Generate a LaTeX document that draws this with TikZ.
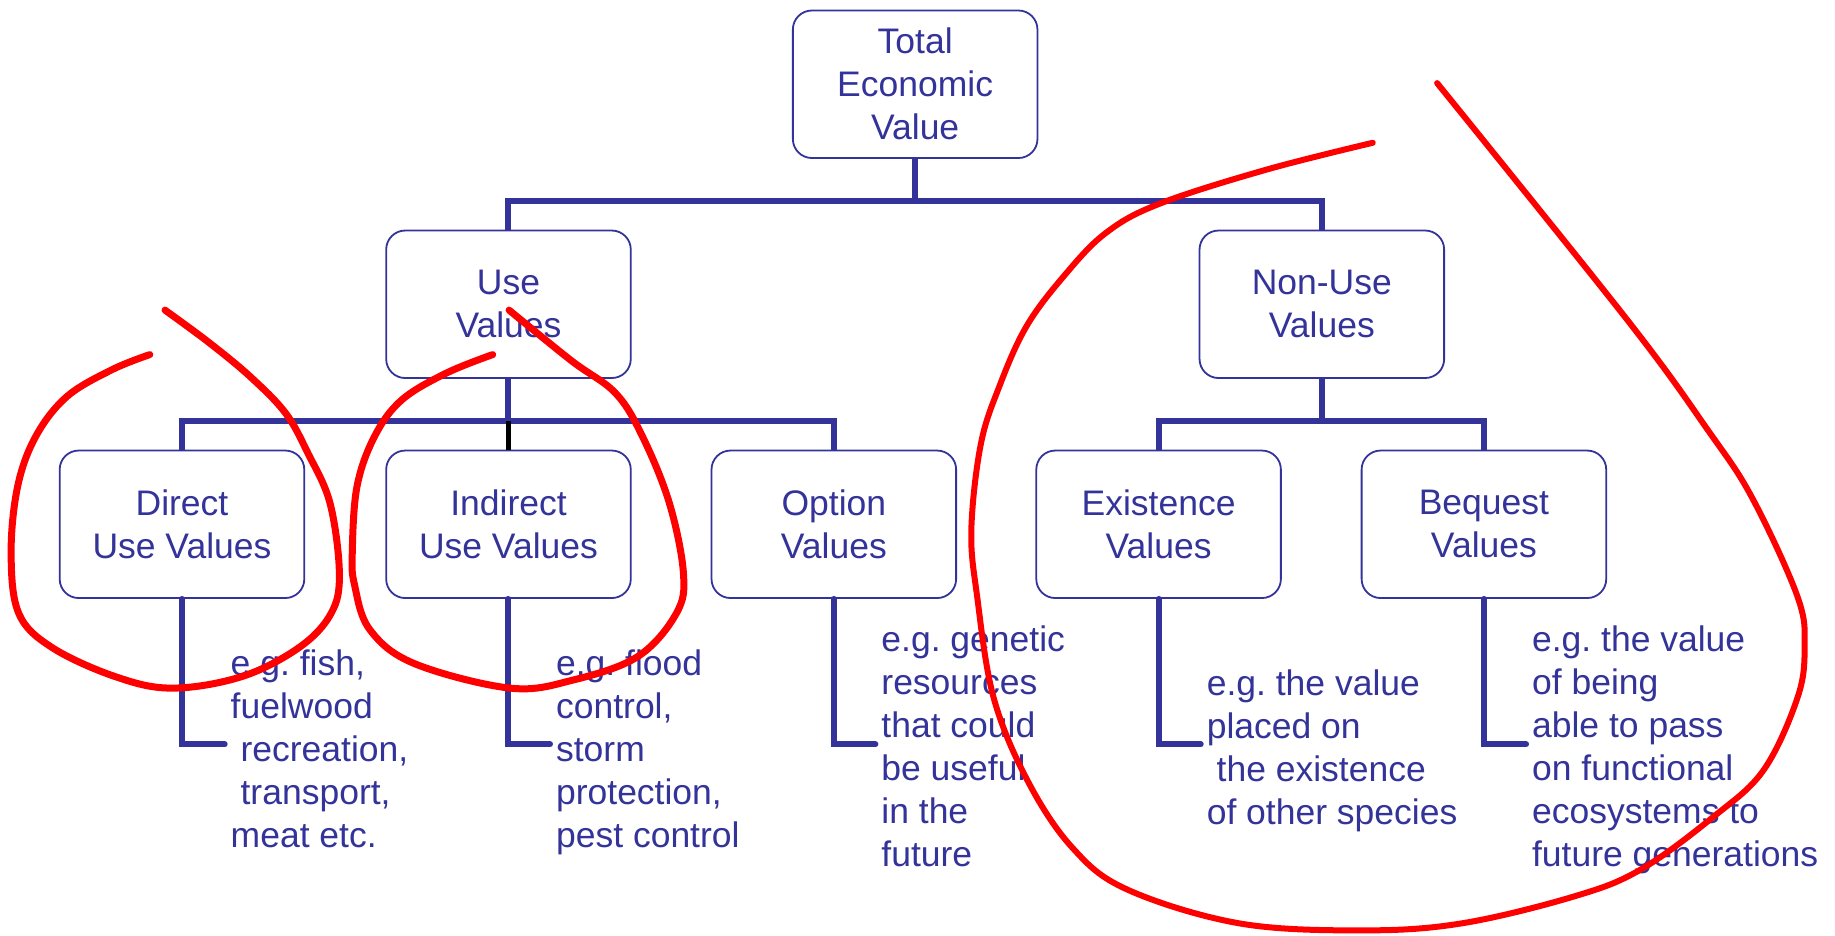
\documentclass[tikz,border=0pt]{standalone}
\usepackage{fontspec}
\setmainfont{Liberation Sans}
\frenchspacing
\definecolor{tevblue}{RGB}{51,51,153}
\definecolor{penred}{RGB}{255,0,0}
\newcommand{\tevfont}{\fontsize{35.5}{43}\selectfont}
\newcommand{\lead}{\hspace*{0.278em}}
\begin{document}
\begin{tikzpicture}[x=1.1703pt,y=-1.1703pt,
  valbox/.style={draw=tevblue, line width=1.8pt, rounded corners=19pt,
    minimum width=244.6pt, minimum height=147.5pt, align=center,
    text=tevblue, font=\tevfont, inner sep=0pt},
  bus/.style={draw=tevblue, line width=6pt, line join=miter},
  elbow/.style={bus, line cap=round},
  note/.style={anchor=north west, align=left, inner sep=0pt,
    text=tevblue, font=\tevfont},
  ring/.style={draw=penred, line width=7pt, line cap=round, line join=round},
  bigring/.style={ring, line width=6pt}]
\useasboundingbox (0,0) rectangle (1568,799);

% value boxes
\node[valbox] (tev)      at (782,72)    {Total\\Economic\\Value};
\node[valbox] (use)      at (434.5,260) {Use\\Values};
\node[valbox] (nonuse)   at (1129.5,260){Non-Use\\Values};
\node[valbox] (direct)   at (155.5,448) {Direct\\Use Values};
\node[valbox] (indirect) at (434.5,448) {Indirect\\Use Values};
\node[valbox] (option)   at (712.5,448) {Option\\Values};
\node[valbox] (exist)    at (990,448)   {Existence\\Values};
\node[valbox] (bequest)  at (1268,448)  {Bequest\\Values};

% example texts
\node[note] (dnote) at (197,551) {\strut e.g. fish,\\fuelwood\\\lead recreation,\\\lead transport,\\meat etc.};
\node[note] (inote) at (475,551) {\strut e.g. flood\\control,\\storm\\protection,\\pest control};
\node[note] (onote) at (753,531) {\strut e.g. genetic\\resources\\that could\\be useful\\in the\\future};
\node[note] (enote) at (1031,568) {\strut e.g. the value\\placed on\\\lead the existence\\of other species};
\node[note] (bnote) at (1309,531) {\strut e.g. the value\\of being\\able to pass\\on functional\\ecosystems to\\future generations};

% tree connectors
\coordinate (top) at (782,172);
\draw[bus] (tev.south) -- (top);
\draw[bus] (use.north) -- (use.north |- top) -- (nonuse.north |- top) -- (nonuse.north);

\coordinate (ubus) at (434.5,360);
\draw[bus] (use.south) -- (ubus);
\draw[bus] (direct.north) -- (direct.north |- ubus) -- (option.north |- ubus) -- (option.north);
\draw[black, line width=5pt] (ubus) -- (indirect.north);

\coordinate (nbus) at (1129.5,360);
\draw[bus] (nonuse.south) -- (nbus);
\draw[bus] (exist.north) -- (exist.north |- nbus) -- (bequest.north |- nbus) -- (bequest.north);

% elbows to the examples
\coordinate (dend) at (192,636);
\coordinate (iend) at (470,636);
\coordinate (oend) at (748,636);
\coordinate (eend) at (1026,636);
\coordinate (bend) at (1304,636);
\draw[elbow] (direct.south) |- (dend);
\draw[elbow] (indirect.south) |- (iend);
\draw[elbow] (option.south) |- (oend);
\draw[elbow] (exist.south) |- (eend);
\draw[elbow] (bequest.south) |- (bend);

% red hand-drawn loops
\draw[ring] plot[smooth, tension=0.6] coordinates {
  (128,303) (95.5,316) (57,339) (30.5,373) (15,416) (9.5,473) (16,524)
  (44,553) (98,578) (147,588) (207,578) (256,553) (283,524) (290,490)
  (282,430) (263,387) (244,353) (214,322) (179,293) (141,265)};
\draw[ring] plot[smooth, tension=0.6] coordinates {
  (421,303) (381,319) (343,342) (320,373) (305,416) (301,473) (303,500)
  (316,538) (354,567) (436,588) (490,581) (545,561) (578,524) (584,490)
  (572,430) (549,373) (526,336) (488,308) (435,265)};
\draw[bigring] plot[smooth, tension=0.6] coordinates {
  (1173,122) (1082,145) (991,174) (945,199) (909,236) (877,279) (854,330)
  (838,380) (830,453) (835,510) (849,596) (878,667) (916,724) (963,760)
  (1059,789) (1164,795) (1249,789) (1345,766) (1402,743) (1464,698)
  (1507,658) (1536,596) (1542,553) (1536,510) (1497,425) (1459,367)
  (1391,274) (1228,71)};
\end{tikzpicture}
\end{document}
